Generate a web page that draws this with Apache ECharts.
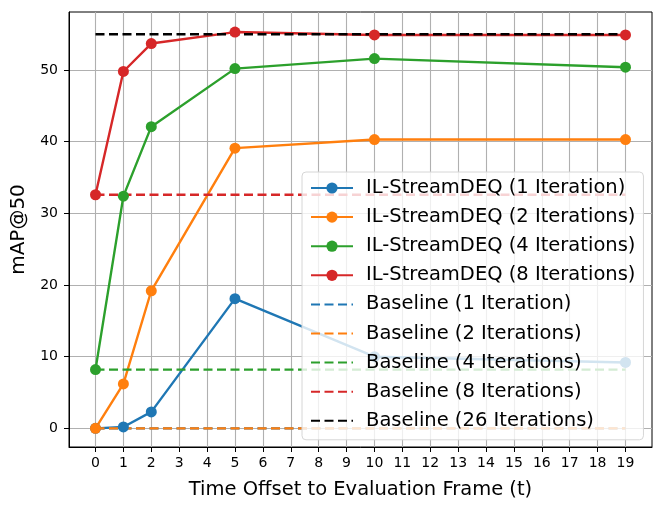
<!DOCTYPE html>
<html>
<head>
<meta charset="utf-8">
<script src="https://cdn.jsdelivr.net/npm/echarts@6/dist/echarts.min.js"></script>
<style>
  html, body { margin: 0; padding: 0; background: #fff; }
  #main { width: 664px; height: 511px; }
</style>
</head>
<body>
<div id="main"></div>
<script>
// time offsets where the models were evaluated
var offsets = [0, 1, 2, 5, 10, 19];
var iter1 = [0, 0.2, 2.3, 18.1, 10.0, 9.2];
var iter2 = [0, 6.2, 19.2, 39.1, 40.3, 40.3];
var iter4 = [8.2, 32.4, 42.1, 50.2, 51.6, 50.4];
var iter8 = [32.6, 49.8, 53.7, 55.3, 54.9, 54.9];

// baselines are flat, drawn from the first to the last offset
var baseNames = ['Baseline (1 Iteration)', 'Baseline (2 Iterations)', 'Baseline (4 Iterations)',
                 'Baseline (8 Iterations)', 'Baseline (26 Iterations)'];
var baseValues = [0, 0, 8.2, 32.6, 55.0];

var lineNames = ['IL-StreamDEQ (1 Iteration)', 'IL-StreamDEQ (2 Iterations)',
                 'IL-StreamDEQ (4 Iterations)', 'IL-StreamDEQ (8 Iterations)'];
var colors = ['#1f77b4', '#ff7f0e', '#2ca02c', '#d62728', '#000000'];

// tick labels shown on each axis
var xTicks = [0, 1, 2, 3, 4, 5, 6, 7, 8, 9, 10, 11, 12, 13, 14, 15, 16, 17, 18, 19];
var yTicks = [0, 10, 20, 30, 40, 50];

var FONT = 'DejaVu Sans';

var pairs = function(xs, ys) {
    return xs.map(function(x, i) { return [x, ys[i]]; });
};

var init_chart = function() {
    var myChart = echarts.init(document.getElementById('main'));
    var series = [];
    [iter1, iter2, iter4, iter8].forEach(function(vals, i) {
        series.push({
            name: lineNames[i],
            type: 'line',
            data: pairs(offsets, vals),
            symbol: 'circle',
            symbolSize: 11,
            lineStyle: { width: 2.4, color: colors[i] },
            itemStyle: { color: colors[i] },
            animation: false
        });
    });
    baseValues.forEach(function(v, i) {
        var first = offsets[0], last = offsets[offsets.length - 1];
        series.push({
            name: baseNames[i],
            type: 'line',
            data: [[first, v], [last, v]],
            symbol: 'none',
            lineStyle: { width: 2.4, color: colors[i], type: [9, 4.5] },
            itemStyle: { color: colors[i] },
            animation: false
        });
    });

    // legend entries: baselines get a plain dashed line, no marker
    var legendData = lineNames.map(function(n) { return { name: n }; })
        .concat(baseNames.map(function(n) { return { name: n, itemStyle: { opacity: 0 } }; }));

    option = {
        animation: false,
        grid: {
            left: 69, right: 12, top: 12, bottom: 64,
            show: true, borderColor: '#000', borderWidth: 1
        },
        legend: {
            orient: 'vertical',
            left: 302, top: 172,
            padding: [6, 8, 9, 8],
            itemWidth: 42, itemHeight: 14, itemGap: 9.1,
            backgroundColor: 'rgba(255,255,255,0.8)',
            borderColor: '#d6d6d6', borderWidth: 1, borderRadius: 4,
            textStyle: { fontFamily: FONT, fontSize: 19.5, color: '#000', padding: [0, 0, 0, 8] },
            data: legendData
        },
        xAxis: {
            type: 'value',
            min: -0.95, max: 19.95,
            minInterval: 1, maxInterval: 1,
            name: 'Time Offset to Evaluation Frame (t)',
            nameLocation: 'middle', nameGap: 33,
            nameTextStyle: { fontFamily: FONT, fontSize: 19.5, color: '#000' },
            axisLine: { onZero: false, lineStyle: { color: '#000', width: 1 } },
            axisTick: { show: true, length: 5, customValues: xTicks, lineStyle: { color: '#000' } },
            axisLabel: {
                fontFamily: FONT, fontSize: 14, color: '#000', margin: 9,
                customValues: xTicks,
                formatter: function(v) { return Number.isInteger(v) ? String(v) : ''; }
            },
            splitLine: { show: true, lineStyle: { color: '#b0b0b0', width: 1.1 } }
        },
        yAxis: {
            type: 'value',
            min: -2.6, max: 58.1,
            minInterval: 10, maxInterval: 10,
            name: 'mAP@50',
            nameLocation: 'middle', nameGap: 35, nameRotate: 90,
            nameTextStyle: { fontFamily: FONT, fontSize: 20, color: '#000' },
            axisLine: { show: true, onZero: false, lineStyle: { color: '#000', width: 1 } },
            axisTick: { show: true, length: 5, customValues: yTicks, lineStyle: { color: '#000' } },
            axisLabel: {
                fontFamily: FONT, fontSize: 14, color: '#000', margin: 11,
                customValues: yTicks,
                formatter: function(v) { return (Math.abs(v % 10) < 1e-9) ? String(v) : ''; }
            },
            splitLine: { show: true, lineStyle: { color: '#b0b0b0', width: 1.1 } }
        },
        series: series
    };
    myChart.setOption(option);
};

init_chart();
</script>
</body>
</html>
